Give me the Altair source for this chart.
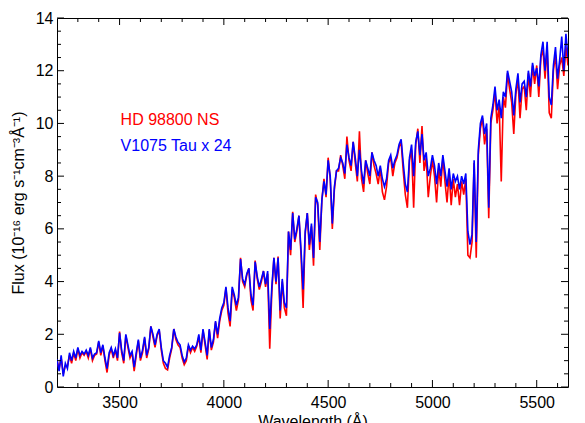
import altair as alt
import pandas as pd

FONT = "Liberation Sans"

# Wavelength grid (Angstrom): regular 10 A sampling from 3200 A
WL_START = 3200
WL_STEP = 10

SERIES = ["HD 98800 NS", "V1075 Tau x 24"]
COLORS = ["#ff0000", "#0000ff"]

# HD 98800 NS flux (1e-16 erg/s/cm^2/A), 3200..5650 A
flux_red = [
    1.0, 0.7, 1.1, 0.5, 0.8, 0.8, 1.2, 0.9, 1.3, 1.0,
    1.45, 1.1, 1.3, 1.2, 1.35, 1.1, 1.45, 1.0, 1.2, 1.25,
    1.7, 1.2, 1.55, 1.0, 0.55, 1.2, 1.45, 1.1, 1.4, 1.0,
    2.1, 1.3, 0.9, 1.95, 1.5, 1.1, 1.3, 0.6, 1.2, 1.75,
    1.0, 1.3, 1.85, 1.1, 1.45, 2.3, 1.9, 1.5, 1.95, 2.15,
    1.4, 0.9, 0.7, 0.65, 1.1, 1.45, 2.2, 1.8, 1.6, 1.5,
    1.1, 0.85, 1.0, 1.55, 1.3, 1.5, 1.35, 1.55, 1.9, 1.3,
    2.15, 1.6, 1.05, 2.15, 1.4, 1.7, 2.45, 1.85, 2.5, 2.9,
    3.1, 3.75, 2.8, 2.3, 3.7, 3.4, 2.9, 3.3, 4.9, 4.0,
    3.8, 4.25, 4.5, 3.3, 2.9, 4.8, 4.1, 3.7, 4.0, 4.4,
    3.8, 4.3, 1.45, 3.6, 4.9, 3.9, 4.95, 2.6, 4.0, 3.0,
    2.7, 5.9, 5.0, 6.65, 5.5, 5.9, 6.5, 5.0, 3.0, 5.8,
    6.6, 5.2, 6.1, 4.6, 7.3, 6.9, 5.2, 7.1, 7.9, 7.2,
    8.7, 7.9, 6.0, 7.5, 8.2, 8.2, 8.8, 8.4, 7.9, 9.5,
    8.6, 8.2, 9.3, 8.5, 7.8, 9.7, 7.9, 7.4, 8.6, 8.1,
    7.7, 8.9, 8.4, 8.1, 7.7, 8.3, 7.4, 7.1, 7.6, 8.5,
    8.7, 8.0, 8.5, 8.7, 9.1, 9.3, 8.2, 7.3, 6.8, 8.6,
    9.0, 6.8, 9.2, 9.8, 8.5, 9.9, 8.2, 8.7, 7.2, 8.0,
    8.6, 8.0, 7.0, 8.3, 7.6, 8.7, 7.8, 7.0, 8.1, 6.9,
    7.9, 7.2, 7.7, 6.9, 7.8, 7.3, 7.9, 5.0, 4.9, 5.5,
    8.5, 4.9, 8.8, 9.8, 10.2, 9.2, 9.8, 6.4, 10.0, 10.5,
    11.2, 10.0, 10.7, 7.8, 11.0, 10.6, 11.9, 11.3, 10.8, 9.6,
    11.1, 11.7, 10.2, 11.3, 11.4, 10.5, 11.9, 11.0, 12.2, 11.5,
    12.2, 11.0, 12.5, 12.8, 11.7, 12.9, 10.4, 10.2, 12.0, 12.6,
    11.3, 12.2, 12.5, 11.8, 12.9, 12.2,
]

# V1075 Tau (scaled x 24) flux, 3200..5650 A
flux_blue = [
    1.05, 0.6, 1.2, 0.4, 0.9, 0.7, 1.3, 1.0, 1.35, 1.1,
    1.5, 1.2, 1.35, 1.25, 1.4, 1.2, 1.5, 1.1, 1.25, 1.3,
    1.75, 1.3, 1.6, 1.1, 0.7, 1.3, 1.5, 1.2, 1.45, 1.1,
    2.05, 1.4, 1.0, 2.0, 1.6, 1.2, 1.35, 0.75, 1.3, 1.8,
    1.1, 1.4, 1.9, 1.2, 1.5, 2.3, 2.0, 1.6, 2.0, 2.2,
    1.5, 1.0, 0.9, 0.75, 1.2, 1.5, 2.2, 1.9, 1.7, 1.6,
    1.2, 0.95, 1.1, 1.6, 1.4, 1.55, 1.45, 1.6, 2.0, 1.4,
    2.2, 1.7, 1.2, 2.2, 1.5, 1.8, 2.5, 2.0, 2.6, 3.0,
    3.2, 3.8, 3.0, 2.5, 3.8, 3.5, 3.1, 3.4, 4.85, 4.1,
    3.9, 4.3, 4.5, 3.5, 3.1, 4.75, 4.2, 3.8, 4.1, 4.4,
    3.9, 4.4, 2.2, 3.8, 4.9, 4.0, 4.9, 2.9, 4.1, 3.2,
    3.0, 5.9, 5.2, 6.6, 5.6, 6.0, 6.5, 5.2, 3.7, 5.9,
    6.6, 5.4, 6.2, 4.9, 7.2, 7.0, 5.5, 7.1, 7.8, 7.3,
    8.6, 8.0, 6.2, 7.6, 8.2, 8.3, 8.7, 8.5, 8.1, 9.2,
    8.7, 8.4, 9.3, 8.7, 8.0, 9.0, 8.2, 7.7, 8.6, 8.3,
    8.0, 8.9, 8.6, 8.4, 8.0, 8.4, 7.9, 7.6, 7.9, 8.6,
    8.8, 8.3, 8.6, 8.8, 9.2, 9.4, 8.5, 7.7, 7.4, 8.7,
    9.2, 8.0, 9.3, 9.7, 8.8, 9.6, 8.6, 8.9, 8.0, 8.3,
    8.8, 8.4, 7.7, 8.5, 8.0, 8.8, 8.2, 7.6, 8.3, 7.5,
    8.1, 7.8, 8.0, 7.5, 8.0, 7.7, 8.1, 5.9, 5.4, 5.8,
    8.6, 5.5, 9.0, 10.0, 10.3, 9.6, 10.0, 6.8, 10.2, 10.7,
    11.4, 10.5, 10.9, 10.2, 11.2, 11.0, 12.0, 11.6, 11.2, 10.3,
    11.3, 11.9, 10.8, 11.5, 11.6, 11.0, 12.0, 11.4, 12.3, 11.8,
    12.1, 11.4, 12.6, 13.1, 12.0, 13.1, 11.0, 10.7, 12.2, 12.9,
    11.7, 12.4, 13.3, 12.0, 13.4, 12.5,
]

X_DOMAIN = [3200, 5650]
Y_DOMAIN = [0, 14]
X_MAJOR = [3500, 4000, 4500, 5000, 5500]
X_MINOR = [3300, 3400, 3600, 3700, 3800, 3900, 4100, 4200, 4300, 4400,
           4600, 4700, 4800, 4900, 5100, 5200, 5300, 5400, 5600]
Y_MAJOR = [0, 2, 4, 6, 8, 10, 12, 14]
Y_MINOR = [0.5, 1, 1.5, 2.5, 3, 3.5, 4.5, 5, 5.5, 6.5, 7, 7.5, 8.5, 9,
           9.5, 10.5, 11, 11.5, 12.5, 13, 13.5]

LABEL_X = [3505, 3505]
LABEL_Y = [9.95, 8.95]

W, H = 511, 369
MAJOR_LEN, MINOR_LEN = 7, 4

wl = [WL_START + i * WL_STEP for i in range(len(flux_blue))]
df = pd.DataFrame({
    "wl": wl * 2,
    "flux": flux_red + flux_blue,
    "series": [SERIES[0]] * len(flux_red) + [SERIES[1]] * len(flux_blue),
})
lab = pd.DataFrame({"x": LABEL_X, "y": LABEL_Y, "text": SERIES, "color": COLORS})

xs = alt.Scale(domain=X_DOMAIN, nice=False, zero=False)
ys = alt.Scale(domain=Y_DOMAIN, nice=False, zero=False)

lines = alt.Chart(df).mark_line(strokeWidth=1.6, clip=True).encode(
    x=alt.X("wl:Q", scale=xs, axis=alt.Axis(
        orient="bottom", values=X_MAJOR, format="d", title="Wavelength (Å)",
        ticks=False, domain=False, grid=False, labelFontSize=16, labelPadding=7,
        titleFontSize=16, titlePadding=3, labelFont=FONT, titleFont=FONT,
        labelColor="black", titleColor="black", titleFontWeight="normal")),
    y=alt.Y("flux:Q", scale=ys, axis=alt.Axis(
        orient="left", values=Y_MAJOR, format="d",
        title="Flux (10⁻¹⁶ erg s⁻¹cm⁻³Å⁻¹)",
        ticks=False, domain=False, grid=False, labelFontSize=16, labelPadding=4,
        titleFontSize=16, titlePadding=9, labelFont=FONT, titleFont=FONT,
        labelColor="black", titleColor="black", titleFontWeight="normal")),
    color=alt.Color("series:N", scale=alt.Scale(domain=SERIES, range=COLORS), legend=None),
)


def xticks(vals, length, top):
    y0, y1 = (0, length) if top else (H, H - length)
    return alt.Chart(pd.DataFrame({"v": vals})).mark_rule(color="black", strokeWidth=1).encode(
        x=alt.X("v:Q", scale=xs, axis=None), y=alt.value(y0), y2=alt.value(y1))


def yticks(vals, length, right):
    x0, x1 = (W, W - length) if right else (0, length)
    return alt.Chart(pd.DataFrame({"v": vals})).mark_rule(color="black", strokeWidth=1).encode(
        y=alt.Y("v:Q", scale=ys, axis=None), x=alt.value(x0), x2=alt.value(x1))


ticks = [
    xticks(X_MAJOR, MAJOR_LEN, False), xticks(X_MINOR, MINOR_LEN, False),
    xticks(X_MAJOR, MAJOR_LEN, True), xticks(X_MINOR, MINOR_LEN, True),
    yticks(Y_MAJOR, MAJOR_LEN, False), yticks(Y_MINOR, MINOR_LEN, False),
    yticks(Y_MAJOR, MAJOR_LEN, True), yticks(Y_MINOR, MINOR_LEN, True),
]

texts = alt.Chart(lab).mark_text(align="left", baseline="alphabetic", fontSize=16, font=FONT).encode(
    x=alt.X("x:Q", scale=xs, axis=None),
    y=alt.Y("y:Q", scale=ys, axis=None),
    text="text:N",
    color=alt.Color("color:N", scale=None),
)

chart = alt.layer(lines, *ticks, texts).resolve_axis(
    x="independent", y="independent"
).properties(
    width=W, height=H,
    autosize=alt.AutoSizeParams(type="none"),
    padding={"left": 49, "top": 10, "right": 9, "bottom": 40},
).configure_view(stroke="black", strokeWidth=1)

chart.save("out.html", embed_options={"renderer": "svg", "actions": False})
